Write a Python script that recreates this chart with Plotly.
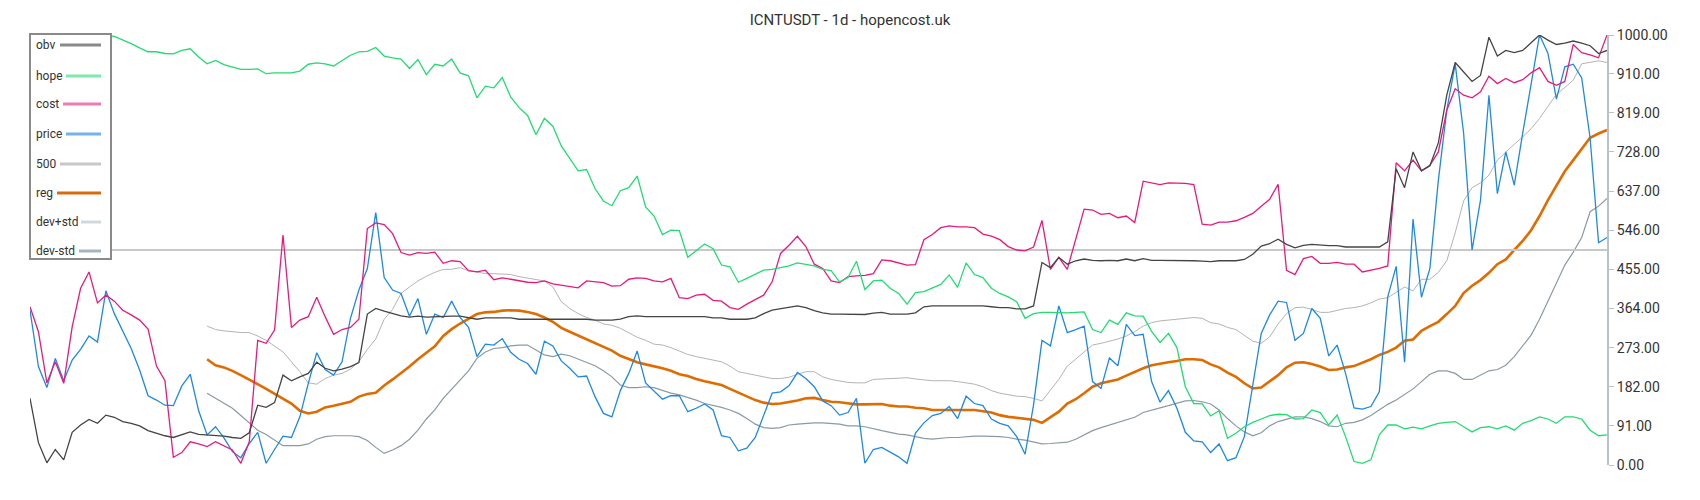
import plotly.graph_objects as go

# ICNTUSDT daily - hope / cost / price / obv with regression band
title = "ICNTUSDT - 1d - hopencost.uk"

price = [360, 229, 180, 248, 196, 244, 269, 300, 286, 405, 352, 312, 271, 221, 161, 151, 139, 138, 184, 211,
         126, 70, 89, 63, 31, 17, 50, 76, 4, 36, 67, 64, 112, 190, 261, 222, 209, 240, 341, 407,
         457, 587, 436, 407, 399, 346, 387, 304, 351, 343, 381, 343, 320, 252, 281, 279, 294, 262, 246, 236,
         211, 288, 277, 242, 225, 205, 207, 159, 120, 112, 173, 213, 265, 191, 173, 153, 161, 161, 124, 132,
         142, 128, 68, 64, 33, 39, 64, 116, 167, 170, 184, 215, 201, 182, 149, 138, 116, 122, 155, 4,
         36, 41, 29, 19, 4, 74, 98, 115, 120, 136, 108, 160, 143, 138, 107, 97, 91, 66, 25, 140,
         290, 277, 370, 308, 315, 323, 194, 178, 249, 231, 327, 301, 304, 194, 146, 173, 132, 76, 56, 54,
         29, 49, 10, 17, 66, 182, 306, 349, 381, 378, 290, 306, 364, 341, 254, 279, 213, 133, 130, 136,
         170, 391, 462, 239, 572, 390, 457, 662, 825, 933, 771, 500, 616, 860, 631, 728, 651, 771, 887, 1000,
         957, 851, 926, 932, 900, 760, 517, 529]

cost = [368, 310, 191, 240, 190, 321, 411, 449, 377, 395, 381, 360, 349, 337, 316, 230, 196, 18, 29, 54,
        49, 43, 54, 45, 35, 4, 54, 290, 283, 314, 535, 320, 337, 345, 390, 345, 304, 315, 320, 339,
        550, 563, 559, 538, 494, 488, 494, 492, 495, 469, 475, 473, 452, 449, 453, 431, 435, 432, 428, 425,
        424, 428, 421, 418, 416, 412, 428, 426, 424, 416, 417, 432, 435, 434, 428, 426, 434, 389, 387, 395,
        397, 383, 381, 366, 362, 374, 385, 395, 426, 492, 511, 532, 508, 467, 457, 428, 424, 438, 440, 441,
        445, 477, 475, 470, 465, 466, 524, 536, 552, 556, 554, 554, 552, 537, 532, 524, 508, 500, 498, 507,
        569, 455, 483, 455, 525, 595, 593, 583, 585, 575, 579, 564, 660, 656, 652, 656, 655, 655, 652, 560,
        558, 565, 565, 568, 576, 585, 602, 618, 653, 453, 443, 480, 485, 469, 469, 471, 467, 467, 449, 453,
        457, 463, 703, 684, 709, 684, 697, 728, 825, 875, 860, 854, 868, 904, 887, 899, 889, 896, 912, 924,
        892, 883, 892, 978, 959, 954, 947, 1000]

obv = [155, 52, 5, 36, 12, 76, 93, 106, 97, 116, 111, 101, 97, 91, 80, 74, 68, 64, 70, 77,
       71, 70, 68, 67, 64, 62, 75, 139, 134, 145, 209, 196, 205, 213, 239, 225, 219, 223, 229, 238,
       351, 364, 358, 352, 347, 344, 346, 344, 345, 345, 346, 346, 343, 339, 342, 342, 342, 342, 339, 339,
       339, 340, 340, 339, 339, 339, 339, 337, 337, 337, 339, 345, 347, 345, 345, 345, 345, 345, 345, 345,
       345, 342, 342, 339, 339, 339, 342, 352, 360, 363, 366, 370, 366, 359, 354, 351, 351, 351, 351, 350,
       353, 355, 351, 351, 351, 354, 368, 370, 370, 370, 370, 370, 370, 370, 368, 366, 366, 363, 363, 370,
       471, 459, 483, 467, 475, 479, 476, 475, 476, 475, 479, 475, 480, 476, 476, 476, 476, 476, 475, 474,
       473, 475, 475, 475, 478, 490, 509, 515, 525, 513, 505, 511, 513, 511, 510, 510, 507, 507, 507, 507,
       507, 519, 689, 645, 728, 684, 696, 749, 860, 936, 914, 892, 906, 995, 951, 964, 959, 964, 982, 1000,
       988, 978, 981, 986, 981, 975, 957, 964]

hope = [1000, 1000, 1000, 1000, 1000, 1000, 1000, 1000, 1000, 1000, 997, 989, 980, 970, 961, 961, 957, 956, 964, 968,
        949, 933, 941, 931, 925, 920, 920, 921, 910, 912, 912, 912, 916, 932, 935, 933, 928, 941, 953, 961,
        962, 971, 951, 947, 944, 922, 943, 908, 932, 928, 944, 912, 905, 854, 881, 877, 901, 856, 831, 813,
        768, 806, 788, 742, 713, 684, 687, 643, 614, 603, 638, 645, 672, 600, 579, 536, 546, 545, 483, 499,
        514, 503, 465, 461, 425, 434, 443, 453, 455, 459, 463, 470, 466, 463, 455, 452, 426, 436, 474, 408,
        428, 430, 411, 399, 374, 401, 403, 412, 420, 442, 413, 470, 443, 436, 411, 399, 391, 380, 341, 352,
        355, 355, 354, 354, 355, 356, 315, 308, 337, 327, 354, 347, 346, 311, 285, 306, 273, 182, 143, 142,
        114, 126, 62, 74, 89, 99, 107, 115, 118, 117, 107, 108, 128, 122, 93, 116, 66, 8, 4, 12,
        70, 93, 93, 84, 88, 84, 91, 97, 99, 101, 89, 77, 87, 89, 84, 91, 81, 97, 103, 112,
        107, 97, 112, 112, 107, 81, 68, 70]

# regression line and its +/- std band start at day 21
band_start = 21
reg = [246, 232, 227, 219, 209, 199, 188, 177, 166, 155, 143, 126, 120, 124, 134, 138, 142, 147, 159,
       165, 168, 185, 199, 213, 229, 246, 260, 276, 300, 316, 329, 341, 351, 355, 356, 359, 360, 359, 356,
       351, 343, 333, 319, 310, 301, 292, 284, 275, 266, 254, 246, 239, 234, 230, 225, 219, 211, 207, 200,
       195, 190, 186, 177, 168, 159, 151, 145, 142, 143, 146, 150, 155, 156, 151, 147, 146, 143, 141, 141,
       142, 142, 138, 136, 136, 133, 132, 128, 128, 128, 129, 128, 128, 125, 122, 116, 112, 110, 107, 105,
       98, 112, 124, 143, 153, 167, 182, 190, 194, 199, 208, 217, 225, 232, 236, 239, 242, 246, 246, 244,
       234, 227, 215, 205, 190, 178, 180, 194, 209, 227, 238, 239, 235, 229, 221, 222, 227, 230, 238, 246,
       256, 263, 273, 289, 292, 312, 323, 333, 351, 370, 400, 417, 430, 447, 467, 478, 500, 521, 546, 579,
       616, 651, 683, 709, 734, 761, 771, 779]

dev_plus = [323, 315, 312, 310, 308, 308, 300, 290, 277, 263, 240, 217, 191, 188, 201, 209, 213, 223, 240,
            269, 293, 339, 362, 399, 414, 428, 439, 448, 455, 455, 459, 452, 449, 445, 445, 444, 443, 438, 435,
            432, 428, 414, 380, 364, 352, 343, 337, 328, 325, 318, 308, 297, 290, 281, 279, 273, 265, 257, 252,
            248, 244, 240, 230, 217, 213, 209, 205, 201, 201, 204, 211, 217, 217, 205, 199, 195, 192, 191, 191,
            199, 200, 200, 201, 203, 200, 198, 196, 196, 196, 194, 191, 188, 182, 173, 167, 163, 160, 159, 155,
            149, 174, 199, 230, 246, 263, 279, 283, 288, 293, 300, 310, 323, 331, 335, 337, 339, 342, 343, 341,
            331, 328, 320, 315, 302, 288, 283, 298, 328, 352, 366, 367, 362, 355, 355, 359, 364, 366, 370, 377,
            386, 389, 401, 414, 405, 432, 432, 448, 475, 540, 614, 645, 656, 674, 709, 728, 746, 763, 782, 806,
            834, 862, 878, 895, 933, 936, 940, 936]

dev_minus = [167, 155, 143, 132, 115, 98, 81, 71, 58, 45, 45, 45, 49, 60, 66, 68, 68, 68, 66,
             57, 41, 27, 35, 45, 60, 81, 107, 128, 155, 177, 199, 219, 248, 263, 271, 273, 277, 279, 279,
             267, 256, 252, 258, 254, 246, 239, 231, 219, 205, 186, 180, 180, 182, 180, 173, 167, 163, 157, 151,
             143, 139, 134, 128, 120, 108, 95, 87, 85, 87, 93, 95, 97, 98, 98, 97, 95, 91, 91, 89,
             84, 80, 76, 72, 70, 66, 62, 60, 62, 64, 64, 66, 67, 67, 67, 66, 64, 60, 58, 53,
             49, 50, 52, 53, 60, 70, 80, 87, 93, 99, 105, 111, 122, 128, 133, 138, 143, 149, 150, 147,
             142, 128, 108, 91, 77, 68, 75, 91, 101, 107, 112, 112, 108, 101, 91, 89, 97, 99, 105, 115,
             128, 141, 151, 165, 177, 194, 211, 219, 219, 213, 199, 199, 209, 219, 222, 232, 252, 277, 302, 339,
             381, 422, 465, 495, 529, 589, 602, 620]

level_500 = [500, 500]
y_ticks = [0, 91, 182, 273, 364, 455, 546, 637, 728, 819, 910, 1000]

days = list(range(len(price)))
band_days = list(range(band_start, band_start + len(reg)))
level_days = [days[0], days[-1]]

# name, x, y, line colour, width, legend swatch colour
series = [
    ("dev-std", band_days, dev_minus, "#8a9aa5", 1.2, "#a8b4bc"),
    ("dev+std", band_days, dev_plus, "#b4b4b4", 1.0, "#d0d8dc"),
    ("reg", band_days, reg, "#e06c00", 2.6, "#d96a10"),
    ("500", level_days, level_500, "#c8c8c8", 2.0, "#c8c8c8"),
    ("price", days, price, "#1e88e5", 1.3, "#72b2ee"),
    ("cost", days, cost, "#e8197d", 1.3, "#f07ab2"),
    ("hope", days, hope, "#22dc72", 1.3, "#7de9aa"),
    ("obv", days, obv, "#444444", 1.3, "#8a8a8a"),
]

fig = go.Figure()
for name, xs, ys, color, width, _ in series:
    fig.add_trace(go.Scatter(x=xs, y=ys, mode="lines", name=name,
                             line=dict(color=color, width=width), hoverinfo="skip"))

# pixel helpers for the hand drawn legend (plot area 30..1607 x 35..465)
def px_x(px):
    return (px - 30) / 1577

def px_y(py):
    return (465 - py) / 430

# simple_white gives shapes a low default opacity, so set it explicitly
shapes = [dict(type="rect", xref="paper", yref="paper", layer="above", opacity=1,
               x0=px_x(30), x1=px_x(111), y0=px_y(259), y1=px_y(34),
               fillcolor="white", line=dict(color="#8a8a8a", width=2))]
annotations = []

legend_rows = [("obv", 45, 60), ("hope", 76, 66), ("cost", 104, 63), ("price", 134, 66),
               ("500", 164, 60), ("reg", 193, 57), ("dev+std", 222, 81), ("dev-std", 251, 79)]
swatch = {s[0]: s[5] for s in series}
for label, py, x_start in legend_rows:
    annotations.append(dict(text=label, xref="paper", yref="paper", x=px_x(34), y=px_y(py),
                            xanchor="left", yanchor="middle", showarrow=False,
                            font=dict(family="Roboto", size=12, color="#333333")))
    shapes.append(dict(type="line", xref="paper", yref="paper", layer="above", opacity=1,
                       x0=px_x(x_start), x1=px_x(101), y0=px_y(py), y1=px_y(py),
                       line=dict(color=swatch[label], width=3)))

fig.update_layout(
    width=1700, height=500,
    template="simple_white",
    title=dict(text=title, x=0.5, xanchor="center", y=0.96, yanchor="middle",
               font=dict(family="Roboto", size=15, color="#333333")),
    font=dict(family="Roboto", color="#333333"),
    margin=dict(l=30, r=93, t=35, b=35),
    showlegend=False,
    shapes=shapes,
    annotations=annotations,
    plot_bgcolor="white",
    paper_bgcolor="white",
)
fig.update_xaxes(visible=False, range=[days[0], days[-1]])
fig.update_yaxes(side="right", range=[0, 1000], tickvals=y_ticks, tickformat=".2f",
                 showgrid=False, zeroline=False, showline=True, linecolor="#b8c2c8", linewidth=2,
                 ticks="outside", ticklen=5, tickcolor="#b8c2c8",
                 tickfont=dict(family="Roboto", size=14, color="#333333"))

# drop the default page margin so the figure sits at the window origin
fig.write_html("out.html", config={"displayModeBar": False},
               post_script="document.body.style.margin = '0';")
